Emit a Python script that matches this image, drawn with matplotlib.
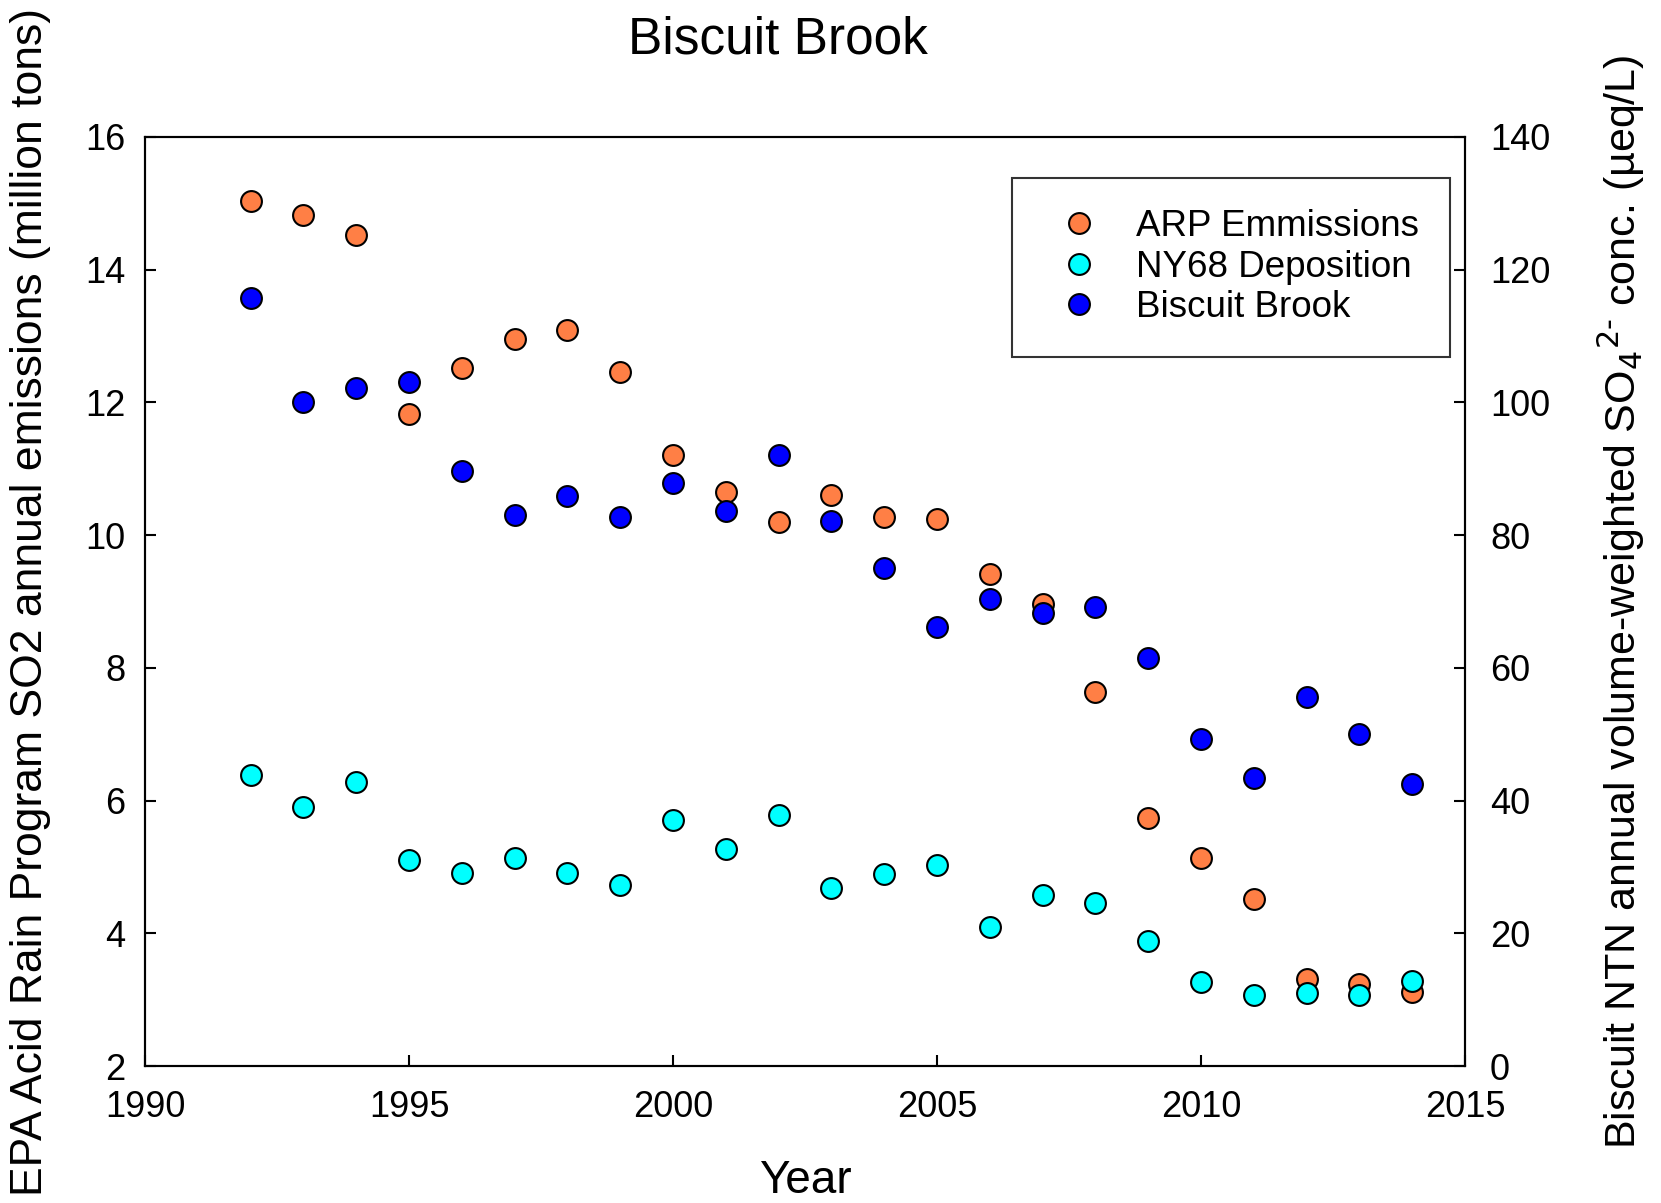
import numpy as np
from matplotlib import pyplot as plt

plt.rcParams['font.family'] = ['Liberation Sans', 'DejaVu Sans']

## datos
years = list(range(1992, 2015))
arp_emissions = [15.03, 14.82, 14.53, 11.83, 12.52, 12.95, 13.09, 12.46, 11.21, 10.65,
                 10.20, 10.60, 10.27, 10.24, 9.41, 8.96, 7.63, 5.73, 5.13, 4.51,
                 3.31, 3.24, 3.12]
ny68_deposition = [43.9, 39.1, 42.8, 31.0, 29.1, 31.3, 29.1, 27.3, 37.0, 32.7,
                   37.8, 26.8, 28.9, 30.3, 20.9, 25.7, 24.6, 18.8, 12.6, 10.7,
                   11.0, 10.7, 12.8]
biscuit_brook = [115.7, 100.1, 102.2, 103.1, 89.7, 83.0, 85.9, 82.7, 87.8, 83.7,
                 92.1, 82.1, 75.0, 66.1, 70.4, 68.3, 69.1, 61.5, 49.3, 43.4,
                 55.6, 50.0, 42.5]

left_ticks = [2, 4, 6, 8, 10, 12, 14, 16]
right_ticks = [0, 20, 40, 60, 80, 100, 120, 140]
x_ticks = [1990, 1995, 2000, 2005, 2010, 2015]

fig = plt.figure(figsize=(16.61, 12.03), dpi=100)
ax = fig.add_axes([145 / 1661, 1 - 1066 / 1203, 1320 / 1661, 929 / 1203])
ax2 = ax.twinx()

msize = 15
h1, = ax.plot(years, arp_emissions, 'o', color='#ff7f45', mec='black', mew=1.5,
              ms=msize, label='ARP Emmissions')
h2, = ax2.plot(years, ny68_deposition, 'o', color='#00ffff', mec='black', mew=1.5,
               ms=msize, label='NY68 Deposition')
h3, = ax2.plot(years, biscuit_brook, 'o', color='#0000ff', mec='black', mew=1.5,
               ms=msize, label='Biscuit Brook')

ax.set_xlim(1990, 2015)
ax.set_ylim(2, 16)
ax2.set_ylim(0, 140)
ax.set_xticks(x_ticks)
ax.set_yticks(left_ticks)
ax2.set_yticks(right_ticks)

for a in (ax, ax2):
    for s in a.spines.values():
        s.set_linewidth(1.5)
ax.tick_params(axis='both', direction='in', length=8, width=1.5, labelsize=26)
ax.tick_params(axis='y', pad=14)
ax.tick_params(axis='x', pad=17)
ax2.tick_params(axis='y', direction='in', length=8, width=1.5, labelsize=26, pad=18)

ax.set_xlabel('Year', fontsize=33, labelpad=25)
fig.text(31 / 1661, 0.5, 'EPA Acid Rain Program SO2 annual emissions (million tons)',
         rotation=90, fontsize=32, ha='center', va='center')
fig.text(1621 / 1661, 0.5,
         'Biscuit NTN annual volume-weighted SO$_4$$^{2\u2010}$ conc. (\u00b5eq/L)',
         rotation=90, fontsize=31, ha='center', va='center')
fig.text(778 / 1661, 1 - 40 / 1203, 'Biscuit Brook', fontsize=37,
         ha='center', va='center')

leg = ax2.legend(handles=[h1, h2, h3], loc='upper right',
                 bbox_to_anchor=(0.9886, 0.9559), fontsize=26.5, frameon=True,
                 fancybox=False, edgecolor='black', borderpad=0.85,
                 handlelength=1.9, handletextpad=0.6, labelspacing=0.15,
                 borderaxespad=0)
leg.get_frame().set_linewidth(1.5)

fig.savefig('out.png', dpi=100)
